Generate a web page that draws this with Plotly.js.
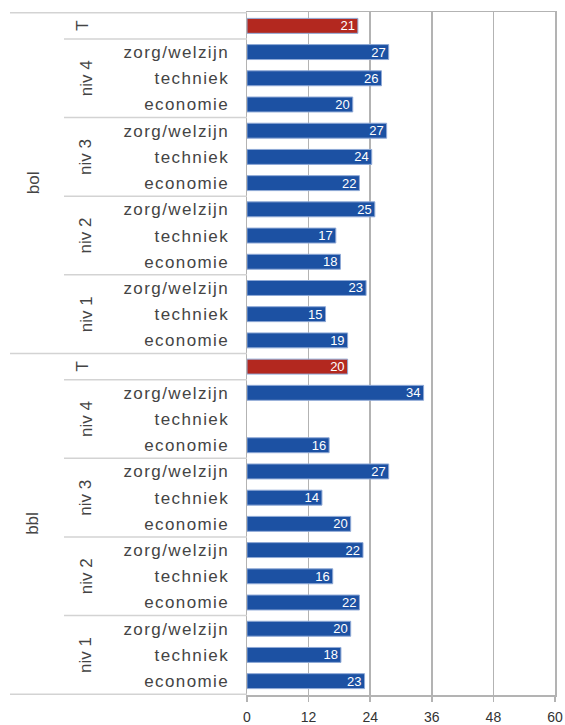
<!DOCTYPE html>
<html>
<head>
<meta charset="utf-8">
<script src="https://cdn.plot.ly/plotly-3.0.1.min.js"></script>
<style>
html, body { margin: 0; padding: 0; background: #fff; }
#chart { width: 565px; height: 725px; }
.ytick text { letter-spacing: 1.4px; }
</style>
</head>
<body>
<div id="chart"></div>
<script>
// ---- data (top-to-bottom row order within each group) ----
var groups = ['bol', 'bbl'];
var levels = ['niv 4', 'niv 3', 'niv 2', 'niv 1'];
var fields = ['zorg/welzijn', 'techniek', 'economie'];
var totalLabel = 'T';

var bolTotal = 21.6;
var bolTotalLabel = 21;
var bolValues = [27.6, 26.2, 20.6, 27.2, 24.3, 21.9, 24.9, 17.3, 18.2, 23.2, 15.3, 19.6];
var bolLabels = [27, 26, 20, 27, 24, 22, 25, 17, 18, 23, 15, 19];

var bblTotal = 19.6;
var bblTotalLabel = 20;
var bblValues = [34.4, null, 16.0, 27.6, 14.6, 20.2, 22.6, 16.7, 21.9, 20.2, 18.3, 22.9];
var bblLabels = [34, null, 16, 27, 14, 20, 22, 16, 22, 20, 18, 23];

var xTicks = [0, 12, 24, 36, 48, 60];

// ---- build rows ----
var totals = { bol: bolTotal, bbl: bblTotal };
var totalLabels = { bol: bolTotalLabel, bbl: bblTotalLabel };
var vals = { bol: bolValues, bbl: bblValues };
var labs = { bol: bolLabels, bbl: bblLabels };

var ids = [], xs = [], texts = [], tickText = [], colors = [];
var BLUE = '#1c51a3', RED = '#b3281f';
groups.forEach(function (g) {
  ids.push(g + '|T'); xs.push(totals[g]); texts.push(String(totalLabels[g]));
  tickText.push(''); colors.push(RED);
  levels.forEach(function (lv, li) {
    fields.forEach(function (f, fi) {
      var k = li * fields.length + fi;
      ids.push(g + '|' + lv + '|' + f);
      xs.push(vals[g][k]);
      texts.push(labs[g][k] == null ? '' : String(labs[g][k]));
      tickText.push(f);
      colors.push(BLUE);
    });
  });
});

// ---- geometry helpers ----
var W = 565, H = 725;
var M = { l: 247, r: 10, t: 12, b: 30 };
var plotW = W - M.l - M.r;
function px(xPix) { return (xPix - M.l) / plotW; }

var labelFont = { family: 'Liberation Sans, Arial, sans-serif', size: 17, color: '#444444' };
var annotations = [], shapes = [];
var rowsPerGroup = 1 + levels.length * fields.length;
var sepColor = '#d3d3d3';

groups.forEach(function (g, gi) {
  var base = gi * rowsPerGroup;
  annotations.push({
    xref: 'paper', yref: 'y', x: px(33), y: ids[base + Math.floor(rowsPerGroup / 2)],
    text: g, showarrow: false, textangle: -90, font: labelFont,
    xanchor: 'center', yanchor: 'middle'
  });
  annotations.push({
    xref: 'paper', yref: 'y', x: px(83), y: ids[base],
    text: totalLabel, showarrow: false, textangle: -90, font: labelFont,
    xanchor: 'center', yanchor: 'middle'
  });
  levels.forEach(function (lv, li) {
    var mid = base + 1 + li * fields.length + 1;
    annotations.push({
      xref: 'paper', yref: 'y', x: px(86), y: ids[mid],
      text: lv, showarrow: false, textangle: -90, font: labelFont,
      xanchor: 'center', yanchor: 'middle'
    });
    var yb = base + 1 + li * fields.length - 0.5;
    shapes.push({
      type: 'line', xref: 'paper', yref: 'y', x0: px(64), x1: 0, y0: yb, y1: yb,
      line: { color: sepColor, width: 1.5 }
    });
  });
  shapes.push({
    type: 'line', xref: 'paper', yref: 'y', x0: px(10), x1: 0, y0: base - 0.5, y1: base - 0.5,
    line: { color: sepColor, width: 1.5 }
  });
});
var lastY = groups.length * rowsPerGroup - 0.5;
shapes.push({
  type: 'line', xref: 'paper', yref: 'y', x0: px(10), x1: 0, y0: lastY, y1: lastY,
  line: { color: sepColor, width: 1.5 }
});

var trace = {
  type: 'bar', orientation: 'h',
  y: ids, x: xs, text: texts,
  textposition: 'inside', insidetextanchor: 'end', textangle: 0,
  textfont: { family: 'Liberation Sans, Arial, sans-serif', size: 13, color: '#ffffff' },
  constraintext: 'none',
  marker: { color: colors, line: { color: '#8fa9d6', width: 1 } },
  hoverinfo: 'skip',
  cliponaxis: false
};

var gridColor = '#b3b3b3';
var layout = {
  width: W, height: H,
  margin: M,
  paper_bgcolor: '#ffffff', plot_bgcolor: '#ffffff',
  showlegend: false,
  bargap: 0.43,
  font: labelFont,
  xaxis: {
    range: [0, 60], tickvals: xTicks, ticktext: xTicks.map(String),
    showgrid: true, gridcolor: gridColor, gridwidth: 1.5,
    zeroline: false,
    showline: true, linecolor: gridColor, linewidth: 1.5, mirror: true,
    ticks: 'outside', ticklen: 5, tickcolor: gridColor, tickwidth: 1.5,
    ticklabelstandoff: 4,
    tickfont: { family: 'Liberation Sans, Arial, sans-serif', size: 14, color: '#333' },
    fixedrange: true
  },
  yaxis: {
    type: 'category', categoryorder: 'array', categoryarray: ids,
    autorange: 'reversed',
    tickvals: ids, ticktext: tickText,
    showgrid: false, zeroline: false,
    showline: true, linecolor: gridColor, linewidth: 1.5, mirror: true,
    ticks: '', ticklabelstandoff: 13,
    tickfont: labelFont,
    fixedrange: true
  },
  annotations: annotations,
  shapes: shapes
};

Plotly.newPlot('chart', [trace], layout, { displayModeBar: false, staticPlot: true });
</script>
</body>
</html>
